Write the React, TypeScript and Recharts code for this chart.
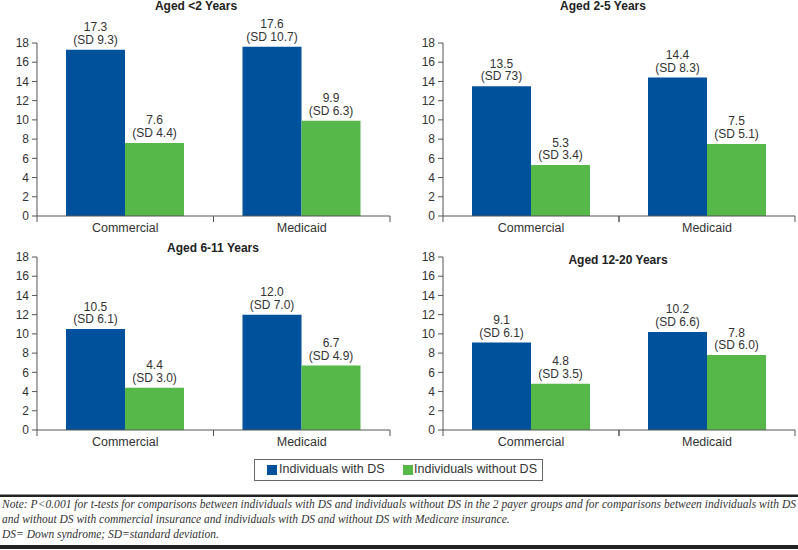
import React from "react";
import { Bar, BarChart, LabelList, XAxis, YAxis } from "recharts";

const categories = ["Commercial", "Medicaid"];
const panelTitles = ["Aged <2 Years", "Aged 2-5 Years", "Aged 6-11 Years", "Aged 12-20 Years"];
const yTicks = [0, 2, 4, 6, 8, 10, 12, 14, 16, 18];

// mean values, [Commercial, Medicaid] per age group
const withDS = [
  [17.3, 17.6],
  [13.5, 14.4],
  [10.5, 12.0],
  [9.1, 10.2],
];
const withoutDS = [
  [7.6, 9.9],
  [5.3, 7.5],
  [4.4, 6.7],
  [4.8, 7.8],
];
const withDSsd = [
  ["9.3", "10.7"],
  ["73", "8.3"],
  ["6.1", "7.0"],
  ["6.1", "6.6"],
];
const withoutDSsd = [
  ["4.4", "6.3"],
  ["3.4", "5.1"],
  ["3.0", "4.9"],
  ["3.5", "6.0"],
];

const BLUE = "#00519c";
const GREEN = "#56b848";
const FONT = "'Liberation Sans', Arial, sans-serif";
const AXIS = "#555";

const CHART_W = 398;
const CHART_H = 240;

// layout of the four panels
const layout = [
  { left: 0, top: 0, ml: 7, mr: 8, titleX: 196, titleY: 6 },
  { left: 400, top: 0, ml: 13, mr: 3, titleX: 603, titleY: 6 },
  { left: 0, top: 214, ml: 7, mr: 8, titleX: 213, titleY: 248 },
  { left: 400, top: 214, ml: 13, mr: 3, titleX: 618, titleY: 260 },
];

const makeLabel = (sds: string[]) => (props: any) => {
  const { x, y, width, value, index } = props;
  const cx = Number(x) + Number(width) / 2;
  return (
    <text x={cx} y={Number(y)} textAnchor="middle" fontFamily={FONT} fontSize={12} fill="#333">
      <tspan x={cx} dy={-18.5}>{Number(value).toFixed(1)}</tspan>
      <tspan x={cx} dy={12.5}>{`(SD ${sds[index]})`}</tspan>
    </text>
  );
};

const makeTick = (half: number) => (props: any) => {
  const { x, y, payload } = props;
  const axisY = Number(y) - 7;
  return (
    <g>
      <line x1={x - half} x2={x - half} y1={axisY} y2={axisY + 6} stroke={AXIS} />
      <line x1={x + half} x2={x + half} y1={axisY} y2={axisY + 6} stroke={AXIS} />
      <text x={x} y={axisY + 16} textAnchor="middle" fontFamily={FONT} fontSize={12.5} fill="#333">
        {payload.value}
      </text>
    </g>
  );
};

function Panel({ i }: { i: number }) {
  const l = layout[i];
  const data = categories.map((name, k) => ({
    name,
    ds: withDS[i][k],
    non: withoutDS[i][k],
  }));
  const half = (CHART_W - l.ml - 30 - l.mr) / 4;
  return (
    <>
      <div
        style={{
          position: "absolute",
          left: l.titleX - 100,
          top: l.titleY - 6,
          width: 200,
          textAlign: "center",
          fontFamily: FONT,
          fontWeight: "bold",
          fontSize: 12,
          lineHeight: "12px",
          color: "#222",
        }}
      >
        {panelTitles[i]}
      </div>
      <div style={{ position: "absolute", left: l.left, top: l.top }}>
        <BarChart
          width={CHART_W}
          height={CHART_H}
          data={data}
          margin={{ top: 43, right: l.mr, left: l.ml, bottom: 4 }}
          barGap={0}
          barSize={59}
        >
          <XAxis
            dataKey="name"
            height={20}
            axisLine={{ stroke: AXIS }}
            tickLine={false}
            tickSize={5}
            tickMargin={2}
            tick={makeTick(half)}
            interval={0}
          />
          <YAxis
            width={30}
            domain={[0, 18]}
            ticks={yTicks}
            interval={0}
            axisLine={{ stroke: AXIS }}
            tickLine={{ stroke: AXIS }}
            tickSize={5}
            tickMargin={3}
            tick={{ fill: "#333", fontSize: 12, fontFamily: FONT }}
          />
          <Bar dataKey="ds" fill={BLUE} isAnimationActive={false}>
            <LabelList dataKey="ds" content={makeLabel(withDSsd[i])} />
          </Bar>
          <Bar dataKey="non" fill={GREEN} isAnimationActive={false}>
            <LabelList dataKey="non" content={makeLabel(withoutDSsd[i])} />
          </Bar>
        </BarChart>
      </div>
    </>
  );
}

export default function App() {
  return (
    <div style={{ position: "absolute", left: 0, top: 0, width: 798, height: 550, background: "#fff", overflow: "hidden" }}>
      {[0, 1, 2, 3].map((i) => (
        <Panel key={i} i={i} />
      ))}
      <div
        style={{
          position: "absolute",
          left: 254,
          top: 459,
          width: 289,
          height: 22,
          border: "1px solid #666",
          boxSizing: "border-box",
          fontFamily: FONT,
          fontSize: 12.5,
          color: "#333",
        }}
      >
        <div style={{ position: "absolute", left: 12, top: 5, width: 10, height: 10, background: BLUE }} />
        <div style={{ position: "absolute", left: 24, top: 2, lineHeight: "15px", whiteSpace: "nowrap" }}>Individuals with DS</div>
        <div style={{ position: "absolute", left: 148, top: 5, width: 10, height: 10, background: GREEN }} />
        <div style={{ position: "absolute", left: 159, top: 2, lineHeight: "15px", whiteSpace: "nowrap" }}>Individuals without DS</div>
      </div>
      <svg width={798} height={60} style={{ position: "absolute", left: 0, top: 490 }}>
        <rect x={0} y={4.5} width={798} height={2.5} fill="#222" />
        <g fontFamily="'Liberation Serif', 'Times New Roman', serif" fontStyle="italic" fontSize={11.5} fill="#333">
          <text x={2} y={18} textLength={794} lengthAdjust="spacing">
            Note: P{"<"}0.001 for t-tests for comparisons between individuals with DS and individuals without DS in the 2 payer groups and for comparisons between individuals with DS
          </text>
          <text x={2} y={33}>
            and without DS with commercial insurance and individuals with DS and without DS with Medicare insurance.
          </text>
          <text x={2} y={48}>DS= Down syndrome; SD=standard deviation.</text>
        </g>
        <rect x={0} y={55} width={798} height={4} fill="#222" />
      </svg>
    </div>
  );
}
